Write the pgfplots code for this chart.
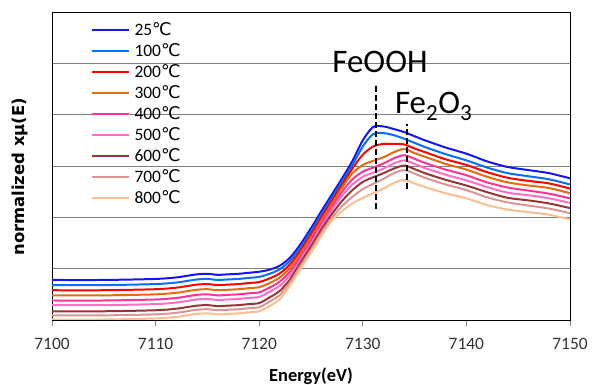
\documentclass[border=0pt]{standalone}
\usepackage{pgfplots}
\pgfplotsset{compat=1.18}
\usepackage{fontspec}
\setmainfont{Carlito}
\newfontfamily\dv{DejaVu Sans}
\newcommand{\dC}{{\dv ℃}}
\definecolor{cA}{RGB}{20,20,245}
\definecolor{cB}{RGB}{0,110,255}
\definecolor{cC}{RGB}{255,0,0}
\definecolor{cD}{RGB}{228,108,10}
\definecolor{cE}{RGB}{255,50,150}
\definecolor{cF}{RGB}{255,110,195}
\definecolor{cG}{RGB}{150,54,52}
\definecolor{cH}{RGB}{218,150,148}
\definecolor{cI}{RGB}{250,190,143}
\begin{document}
\begin{tikzpicture}
\useasboundingbox (0,0) rectangle (592bp,385bp);
\begin{axis}[
  at={(52bp,65bp)}, anchor=south west,
  width=518bp, height=308bp, scale only axis,
  xmin=7100, xmax=7150, ymin=0, ymax=6,
  xtick={7100,7110,...,7150},
  ytick={0,1,...,6}, yticklabels={},
  ymajorgrids, grid style={draw=gray, line width=0.8pt},
  xtick pos=bottom, ytick pos=left,
  major tick length=6bp, tick align=outside,
  xtick style={draw=gray, line width=1pt},
  ytick style={draw=none},
  axis line style={black, line width=1pt},
  /pgf/number format/assume math mode=true,
  /pgf/number format/1000 sep={},
  xticklabel style={font=\fontsize{17.5}{17.5}\selectfont, text=black!80, yshift=-9bp},
  xlabel={Energy(eV)},
  xlabel style={font=\fontsize{18.5}{18.5}\selectfont\bfseries, at={(axis description cs:0.5,-0.182)}, anchor=center},
  ylabel={normalized xμ(E)},
  ylabel style={font=\dv\fontsize{16.5}{16.5}\selectfont\bfseries, at={(axis description cs:-0.061,0.465)}, anchor=center, rotate=0},
  legend style={at={(axis description cs:0.074,0.963)}, anchor=north west, draw=none, fill=none, inner sep=0pt, row sep=9bp, font=\fontsize{17.5}{17.5}\selectfont, nodes={inner xsep=2bp, inner ysep=0pt, text height=12bp, text depth=0bp}, cells={anchor=west}, /tikz/every odd column/.append style={column sep=3bp}},
  legend image code/.code={\draw[#1] (0bp,0bp) -- (37bp,0bp);},
  every axis plot/.append style={line width=2pt, smooth, tension=0.5},
]
\addplot[cA] coordinates {(7100,0.78)(7105,0.78)(7110,0.80)(7112,0.83)(7113,0.86)(7114,0.89)(7115,0.90)(7116,0.88)(7117,0.89)(7118,0.90)(7119,0.92)(7120,0.94)(7121,0.98)(7122,1.06)(7123,1.22)(7124,1.48)(7125,1.79)(7126,2.12)(7127,2.44)(7128,2.76)(7129,3.10)(7130,3.50)(7131,3.76)(7132,3.77)(7133,3.72)(7134,3.66)(7135,3.58)(7136,3.50)(7138,3.36)(7140,3.24)(7142,3.09)(7144,2.98)(7146,2.92)(7148,2.86)(7150,2.76)};
\addlegendentry{25\dC}
\addplot[cB] coordinates {(7100,0.68)(7105,0.68)(7110,0.70)(7112,0.73)(7113,0.76)(7114,0.79)(7115,0.80)(7116,0.78)(7117,0.79)(7118,0.80)(7119,0.82)(7120,0.84)(7121,0.90)(7122,0.99)(7123,1.16)(7124,1.42)(7125,1.73)(7126,2.06)(7127,2.38)(7128,2.70)(7129,3.02)(7130,3.38)(7131,3.62)(7132,3.64)(7133,3.60)(7134,3.53)(7135,3.45)(7136,3.37)(7138,3.23)(7140,3.11)(7142,2.97)(7144,2.86)(7146,2.80)(7148,2.74)(7150,2.64)};
\addlegendentry{100\dC}
\addplot[cC] coordinates {(7100,0.58)(7105,0.58)(7110,0.60)(7112,0.63)(7113,0.66)(7114,0.69)(7115,0.70)(7116,0.68)(7117,0.69)(7118,0.70)(7119,0.72)(7120,0.74)(7121,0.81)(7122,0.91)(7123,1.09)(7124,1.36)(7125,1.67)(7126,2.00)(7127,2.32)(7128,2.64)(7129,2.95)(7130,3.22)(7131,3.38)(7132,3.43)(7133,3.43)(7134,3.42)(7135,3.34)(7136,3.27)(7138,3.13)(7140,3.02)(7142,2.88)(7144,2.77)(7146,2.71)(7148,2.66)(7150,2.56)};
\addlegendentry{200\dC}
\addplot[cD] coordinates {(7100,0.48)(7105,0.48)(7110,0.50)(7112,0.53)(7113,0.56)(7114,0.59)(7115,0.60)(7116,0.58)(7117,0.59)(7118,0.60)(7119,0.62)(7120,0.64)(7121,0.72)(7122,0.83)(7123,1.02)(7124,1.30)(7125,1.61)(7126,1.94)(7127,2.26)(7128,2.58)(7129,2.86)(7130,3.02)(7131,3.10)(7132,3.17)(7133,3.27)(7134,3.33)(7135,3.25)(7136,3.18)(7138,3.04)(7140,2.93)(7142,2.79)(7144,2.68)(7146,2.62)(7148,2.57)(7150,2.47)};
\addlegendentry{300\dC}
\addplot[cE] coordinates {(7100,0.38)(7105,0.38)(7110,0.40)(7112,0.43)(7113,0.46)(7114,0.49)(7115,0.50)(7116,0.48)(7117,0.49)(7118,0.50)(7119,0.52)(7120,0.54)(7121,0.63)(7122,0.75)(7123,0.95)(7124,1.24)(7125,1.55)(7126,1.88)(7127,2.20)(7128,2.50)(7129,2.74)(7130,2.89)(7131,2.97)(7132,3.05)(7133,3.15)(7134,3.21)(7135,3.14)(7136,3.06)(7138,2.93)(7140,2.82)(7142,2.68)(7144,2.58)(7146,2.52)(7148,2.46)(7150,2.37)};
\addlegendentry{400\dC}
\addplot[cF] coordinates {(7100,0.29)(7105,0.29)(7110,0.31)(7112,0.34)(7113,0.37)(7114,0.40)(7115,0.41)(7116,0.39)(7117,0.40)(7118,0.41)(7119,0.43)(7120,0.45)(7121,0.55)(7122,0.67)(7123,0.88)(7124,1.18)(7125,1.49)(7126,1.82)(7127,2.14)(7128,2.42)(7129,2.64)(7130,2.79)(7131,2.87)(7132,2.95)(7133,3.05)(7134,3.11)(7135,3.04)(7136,2.96)(7138,2.83)(7140,2.72)(7142,2.59)(7144,2.48)(7146,2.43)(7148,2.37)(7150,2.28)};
\addlegendentry{500\dC}
\addplot[cG] coordinates {(7100,0.17)(7105,0.17)(7110,0.19)(7112,0.22)(7113,0.25)(7114,0.28)(7115,0.29)(7116,0.27)(7117,0.28)(7118,0.29)(7119,0.31)(7120,0.33)(7121,0.44)(7122,0.57)(7123,0.80)(7124,1.12)(7125,1.43)(7126,1.76)(7127,2.06)(7128,2.32)(7129,2.53)(7130,2.69)(7131,2.78)(7132,2.86)(7133,2.95)(7134,3.01)(7135,2.94)(7136,2.86)(7138,2.73)(7140,2.62)(7142,2.49)(7144,2.38)(7146,2.33)(7148,2.27)(7150,2.18)};
\addlegendentry{600\dC}
\addplot[cH] coordinates {(7100,0.09)(7105,0.09)(7110,0.11)(7112,0.14)(7113,0.17)(7114,0.20)(7115,0.21)(7116,0.19)(7117,0.20)(7118,0.21)(7119,0.23)(7120,0.25)(7121,0.36)(7122,0.49)(7123,0.74)(7124,1.06)(7125,1.37)(7126,1.70)(7127,1.99)(7128,2.22)(7129,2.40)(7130,2.55)(7131,2.65)(7132,2.75)(7133,2.86)(7134,2.92)(7135,2.85)(7136,2.77)(7138,2.64)(7140,2.53)(7142,2.39)(7144,2.29)(7146,2.23)(7148,2.17)(7150,2.08)};
\addlegendentry{700\dC}
\addplot[cI] coordinates {(7100,0.01)(7105,0.01)(7110,0.03)(7112,0.06)(7113,0.09)(7114,0.12)(7115,0.13)(7116,0.11)(7117,0.12)(7118,0.13)(7119,0.15)(7120,0.17)(7121,0.27)(7122,0.41)(7123,0.68)(7124,1.00)(7125,1.31)(7126,1.64)(7127,1.93)(7128,2.12)(7129,2.27)(7130,2.38)(7131,2.47)(7132,2.56)(7133,2.67)(7134,2.73)(7135,2.66)(7136,2.59)(7138,2.47)(7140,2.37)(7142,2.24)(7144,2.15)(7146,2.10)(7148,2.05)(7150,1.96)};
\addlegendentry{800\dC}
\addplot[black, line width=2pt, dash pattern=on 6bp off 3bp, forget plot] coordinates {(7131.3,2.17)(7131.3,4.62)};
\addplot[black, line width=2pt, dash pattern=on 6bp off 3bp, forget plot] coordinates {(7134.3,2.56)(7134.3,3.81)};
\node[font=\fontsize{33}{33}\selectfont, anchor=base] at (axis cs:7131.66,4.83) {FeOOH};
\node[font=\fontsize{33}{33}\selectfont, anchor=base west, inner sep=0pt] at (axis cs:7133.1,4.02) {Fe\textsubscript{2}O\textsubscript{3}};
\draw[gray, line width=1pt] (rel axis cs:0,0) -- (rel axis cs:1,0);
\end{axis}
\end{tikzpicture}
\end{document}
